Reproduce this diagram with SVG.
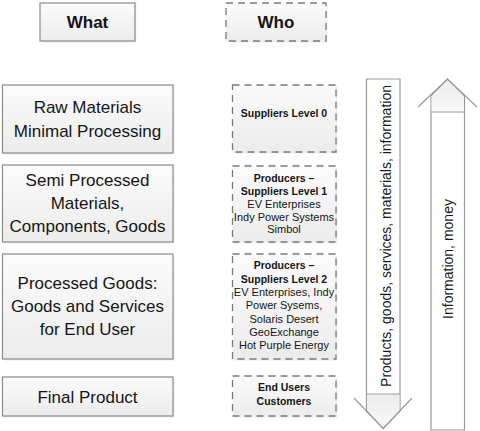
<svg xmlns="http://www.w3.org/2000/svg" width="480" height="431" viewBox="0 0 480 431">
<style>
.box{fill:url(#g);stroke:#8a8a8a;stroke-width:1.2}
.dbox{fill:url(#g);stroke:#7a7a7a;stroke-width:1.3;stroke-dasharray:7 5}
.sh{fill:#000;opacity:0.07}
.t{font-family:"Liberation Sans",Arial,sans-serif;fill:#151515;text-anchor:middle}
.big{font-size:17px}
.hd{font-size:17px;font-weight:bold}
.sm{font-size:11px}
.smb{font-size:10.5px;font-weight:bold}
.ar{fill:#fff;stroke:#9a9a9a;stroke-width:1.2}
.ln{fill:none;stroke:#9a9a9a;stroke-width:1.2}
.hf{fill:url(#hg);stroke:none}
.at{font-family:"Liberation Sans",Arial,sans-serif;font-size:14px;fill:#1a1a1a;text-anchor:middle}
</style>
<defs>
<linearGradient id="g" x1="0" y1="0" x2="0" y2="1"><stop offset="0" stop-color="#fbfbfb"/><stop offset="1" stop-color="#ececec"/></linearGradient>
<linearGradient id="hg" x1="0" y1="0" x2="0" y2="1"><stop offset="0" stop-color="#ececec"/><stop offset="1" stop-color="#f8f8f8"/></linearGradient>
</defs>
<rect width="480" height="431" fill="#fff"/>

<g id="what">
<rect class="sh" x="41.5" y="4.5" width="95" height="38"/>
<rect class="box" x="40" y="3" width="95" height="38"/>
<text class="t hd" x="87.5" y="28">What</text>
</g>
<g id="who">
<rect class="sh" x="227.5" y="4.5" width="100" height="38"/>
<rect class="dbox" x="226" y="3" width="100" height="38"/>
<text class="t hd" x="276" y="28">Who</text>
</g>

<g id="raw-materials">
<rect class="sh" x="4" y="86.5" width="170.5" height="68"/>
<rect class="box" x="2.5" y="85" width="170.5" height="68"/>
<text class="t big" x="87.5" y="113">Raw Materials</text>
<text class="t big" x="87.5" y="137">Minimal Processing</text>
</g>
<g id="semi-processed">
<rect class="sh" x="4" y="166.5" width="170.5" height="77"/>
<rect class="box" x="2.5" y="165" width="170.5" height="77"/>
<text class="t big" x="87.5" y="186">Semi Processed</text>
<text class="t big" x="87.5" y="209">Materials,</text>
<text class="t big" x="87.5" y="232">Components, Goods</text>
</g>
<g id="processed-goods">
<rect class="sh" x="4" y="255.5" width="170.5" height="105"/>
<rect class="box" x="2.5" y="254" width="170.5" height="105"/>
<text class="t big" x="87.5" y="289">Processed Goods:</text>
<text class="t big" x="87.5" y="312">Goods and Services</text>
<text class="t big" x="87.5" y="335">for End User</text>
</g>
<g id="final-product">
<rect class="sh" x="4" y="378.5" width="170.5" height="39"/>
<rect class="box" x="2.5" y="377" width="170.5" height="39"/>
<text class="t big" x="87.5" y="403">Final Product</text>
</g>

<g id="suppliers-0">
<rect class="sh" x="234" y="86.5" width="103.5" height="67"/>
<rect class="dbox" x="232.5" y="85" width="103.5" height="67"/>
<text class="t smb" x="284" y="117">Suppliers Level 0</text>
</g>
<g id="producers-1">
<rect class="sh" x="234" y="167.5" width="103.5" height="76"/>
<rect class="dbox" x="232.5" y="166" width="103.5" height="76"/>
<text class="t smb" x="284" y="182">Producers –</text>
<text class="t smb" x="284" y="195">Suppliers Level 1</text>
<text class="t sm" x="284" y="208">EV Enterprises</text>
<text class="t sm" x="284" y="220.5">Indy Power Systems</text>
<text class="t sm" x="284" y="233">Simbol</text>
</g>
<g id="producers-2">
<rect class="sh" x="234" y="255.5" width="103.5" height="105"/>
<rect class="dbox" x="232.5" y="254" width="103.5" height="105"/>
<text class="t smb" x="284" y="269">Producers –</text>
<text class="t smb" x="284" y="282.5">Suppliers Level 2</text>
<text class="t sm" x="284" y="296">EV Enterprises, Indy</text>
<text class="t sm" x="284" y="309">Power Sysems,</text>
<text class="t sm" x="284" y="322.5">Solaris Desert</text>
<text class="t sm" x="284" y="336">GeoExchange</text>
<text class="t sm" x="284" y="349">Hot Purple Energy</text>
</g>
<g id="end-users">
<rect class="sh" x="234" y="377.5" width="103.5" height="40"/>
<rect class="dbox" x="232.5" y="376" width="103.5" height="40"/>
<text class="t smb" x="284" y="391">End Users</text>
<text class="t smb" x="284" y="405">Customers</text>
</g>

<g id="connectors">
<g id="down-arrow">
<path class="ar" d="M366.5,79 H400 V411 L383.2,428.5 L366.5,411 Z"/>
<path class="hf" d="M367.2,394.6 H399.4 V410.6 L383.2,427.5 L367.2,410.6 Z"/>
<line class="ln" x1="366.5" y1="394" x2="400" y2="394"/>
<polyline class="ln" points="354,398 383.2,428.5 412,398"/>
<text class="at" transform="translate(391,236) rotate(-90)">Products, goods, services, materials, information</text>
</g>
<g id="up-arrow">
<path class="ar" d="M431,430 V96 L447.5,79 L464.5,96 V430 Z"/>
<path class="hf" d="M431.6,111.4 V96.3 L447.5,80 L463.9,96.3 V111.4 Z"/>
<line class="ln" x1="431" y1="112" x2="464.5" y2="112"/>
<polyline class="ln" points="418,107 447.5,79 477,107"/>
<text class="at" transform="translate(453,259) rotate(-90)">Information, money</text>
</g>
</g>
</svg>
